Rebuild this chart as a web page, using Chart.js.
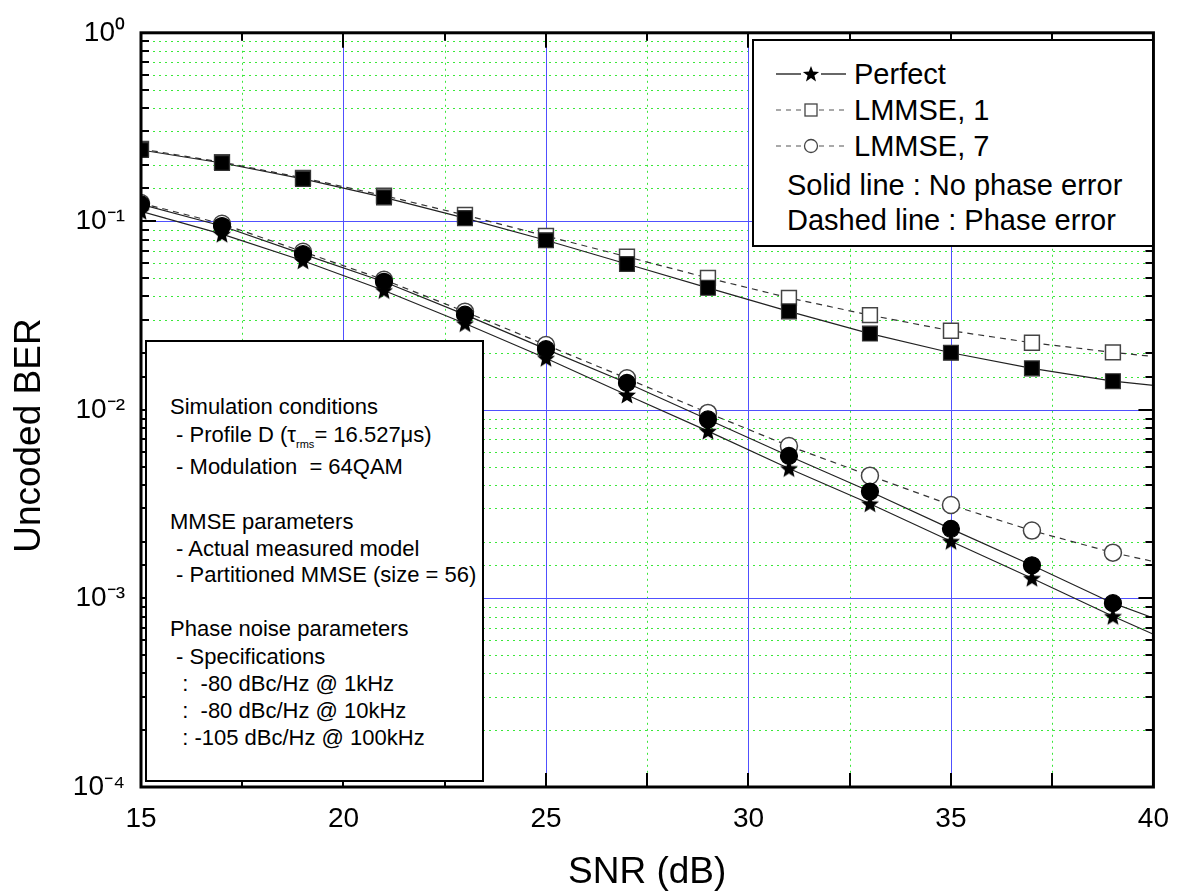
<!DOCTYPE html>
<html lang="en">
<head>
  <meta charset="UTF-8" />
  <title>Uncoded BER vs SNR</title>
  <script src="https://cdn.jsdelivr.net/npm/chart.js"></script>
  <style>
    html, body {
      margin: 0;
      padding: 0;
      background: #fff;
      font-family: 'Liberation Sans', Arial, sans-serif;
      color: #000;
    }

    #wrap {
      position: relative;
      width: 1184px;
      height: 895px;
    }

    .legend-box, .cond-box {
      position: absolute;
      background: #fff;
      border: 2px solid #000;
      box-sizing: border-box;
    }

    .legend-box {
      left: 752px;
      top: 39px;
      width: 402px;
      height: 208px;
      font-size: 29px;
    }

    .cond-box {
      left: 145px;
      top: 340px;
      width: 339px;
      height: 442px;
      font-size: 22px;
    }

    .row {
      position: absolute;
      white-space: nowrap;
      line-height: 30px;
    }

    .legend-box svg {
      position: absolute;
      left: 22px;
    }

    sub.rms {
      font-size: 11px;
      vertical-align: -6px;
    }
  </style>
</head>
<body>
  <div id="wrap">
    <canvas id="berChart" width="1184" height="895"></canvas>

    <div class="legend-box">
      <svg width="70" height="20" style="top:23px">
        <line x1="0" y1="10" x2="25" y2="10" stroke="#000" stroke-width="1.2" />
        <line x1="45" y1="10" x2="70" y2="10" stroke="#000" stroke-width="1.2" />
        <polygon points="35,2 37.1,7.6 43.1,7.9 38.4,11.6 40,17.4 35,14.1 30,17.4 31.6,11.6 26.9,7.9 32.9,7.6" fill="#000" />
      </svg>
      <div class="row" style="left:100px;top:18px">Perfect</div>

      <svg width="70" height="20" style="top:59px">
        <line x1="0" y1="10" x2="27" y2="10" stroke="#555" stroke-width="1.2" stroke-dasharray="5 5" />
        <line x1="43" y1="10" x2="70" y2="10" stroke="#555" stroke-width="1.2" stroke-dasharray="5 5" />
        <rect x="29" y="4" width="12" height="12" fill="#fff" stroke="#444" stroke-width="1.3" />
      </svg>
      <div class="row" style="left:100px;top:54px">LMMSE, 1</div>

      <svg width="70" height="20" style="top:95px">
        <line x1="0" y1="10" x2="27" y2="10" stroke="#555" stroke-width="1.2" stroke-dasharray="5 5" />
        <line x1="43" y1="10" x2="70" y2="10" stroke="#555" stroke-width="1.2" stroke-dasharray="5 5" />
        <circle cx="35" cy="10" r="6.5" fill="#fff" stroke="#444" stroke-width="1.3" />
      </svg>
      <div class="row" style="left:100px;top:90px">LMMSE, 7</div>

      <div class="row" style="left:33px;top:129px">Solid line : No phase error</div>
      <div class="row" style="left:33px;top:164px">Dashed line : Phase error</div>
    </div>

    <div class="cond-box">
      <div class="row" style="left:23px;top:50px">Simulation conditions</div>
      <div class="row" style="left:23px;top:78px">&nbsp;- Profile D (τ<sub class="rms">rms</sub>= 16.527μs)</div>
      <div class="row" style="left:23px;top:110px">&nbsp;- Modulation &nbsp;= 64QAM</div>
      <div class="row" style="left:23px;top:165px">MMSE parameters</div>
      <div class="row" style="left:23px;top:192px">&nbsp;- Actual measured model</div>
      <div class="row" style="left:23px;top:218px">&nbsp;- Partitioned MMSE (size = 56)</div>
      <div class="row" style="left:23px;top:272px">Phase noise parameters</div>
      <div class="row" style="left:23px;top:300px">&nbsp;- Specifications</div>
      <div class="row" style="left:23px;top:327px">&nbsp; : &nbsp;-80 dBc/Hz @ 1kHz</div>
      <div class="row" style="left:23px;top:354px">&nbsp; : &nbsp;-80 dBc/Hz @ 10kHz</div>
      <div class="row" style="left:23px;top:381px">&nbsp; : -105 dBc/Hz @ 100kHz</div>
    </div>
  </div>

  <script>
    // SNR points (last one is only where the curves run into the right frame)
    const snr = [15, 17, 19, 21, 23, 25, 27, 29, 31, 33, 35, 37, 39, 40];

    const perfect   = [0.113, 0.0855, 0.0618, 0.043, 0.0287, 0.0188, 0.0120, 0.00772, 0.00489, 0.00318, 0.00201, 0.00128, 0.000804, 0.000646];
    const lmmse7    = [0.123, 0.0945, 0.067, 0.0478, 0.0320, 0.0210, 0.0139, 0.0089, 0.0057, 0.00369, 0.00234, 0.0015, 0.000944, 0.000788];
    const lmmse7Pe  = [0.125, 0.097, 0.069, 0.049, 0.0332, 0.0221, 0.0147, 0.00964, 0.00644, 0.00448, 0.00313, 0.00229, 0.00175, 0.00157];
    const lmmse1    = [0.239, 0.204, 0.168, 0.134, 0.104, 0.0794, 0.0594, 0.0444, 0.0333, 0.0254, 0.0201, 0.0166, 0.0142, 0.0135];
    const lmmse1Pe  = [0.242, 0.206, 0.170, 0.137, 0.108, 0.0837, 0.0649, 0.0501, 0.0393, 0.0318, 0.0263, 0.0227, 0.0202, 0.0192];

    const yTickValues = [1e-4, 1e-3, 1e-2, 1e-1, 1];
    const yTickLabels = ['10⁻⁴', '10⁻³', '10⁻²', '10⁻¹', '10⁰'];
    const xTickValues = [15, 20, 25, 30, 35, 40];
    const xTickLabels = ['15', '20', '25', '30', '35', '40'];

    const isDecade = v => Math.abs(Math.log10(v) - Math.round(Math.log10(v))) < 1e-6;
    const lastIdx = snr.length - 1;

    // filled star marker
    const starImg = document.createElement('canvas');
    starImg.width = 20;
    starImg.height = 20;
    (function () {
      const c = starImg.getContext('2d');
      c.beginPath();
      for (let i = 0; i < 10; i++) {
        const r = i % 2 === 0 ? 9.5 : 4.2;
        const a = -Math.PI / 2 + i * Math.PI / 5;
        const px = 10 + r * Math.cos(a), py = 10.8 + r * Math.sin(a);
        if (i === 0) c.moveTo(px, py); else c.lineTo(px, py);
      }
      c.closePath();
      c.fillStyle = '#000';
      c.fill();
    })();

    const pts = arr => snr.map((x, i) => ({ x: x, y: arr[i] }));
    const radius = r => ctx => ctx.dataIndex === lastIdx ? 0 : r;

    // grid: blue solid at major values, green dotted at minor ones
    const gridLines = {
      id: 'gridLines',
      beforeDatasetsDraw(chart) {
        const { ctx, chartArea: a, scales: { x, y } } = chart;
        const px = v => Math.round(v) + 0.5;
        ctx.save();
        ctx.lineWidth = 1;

        ctx.strokeStyle = '#3ae83a';
        ctx.setLineDash([2, 4]);
        y.ticks.forEach(t => {
          if (isDecade(t.value)) return;
          const yy = px(y.getPixelForValue(t.value));
          ctx.beginPath(); ctx.moveTo(a.left, yy); ctx.lineTo(a.right, yy); ctx.stroke();
        });
        x.ticks.forEach(t => {
          if (t.value % 5 === 0) return;
          const xx = px(x.getPixelForValue(t.value));
          ctx.beginPath(); ctx.moveTo(xx, a.top); ctx.lineTo(xx, a.bottom); ctx.stroke();
        });

        ctx.setLineDash([]);
        ctx.strokeStyle = '#5050ff';
        y.ticks.forEach(t => {
          if (!isDecade(t.value) || t.value === y.min || t.value === y.max) return;
          const yy = px(y.getPixelForValue(t.value));
          ctx.beginPath(); ctx.moveTo(a.left, yy); ctx.lineTo(a.right, yy); ctx.stroke();
        });
        x.ticks.forEach(t => {
          if (t.value % 5 !== 0 || t.value === x.min || t.value === x.max) return;
          const xx = px(x.getPixelForValue(t.value));
          ctx.beginPath(); ctx.moveTo(xx, a.top); ctx.lineTo(xx, a.bottom); ctx.stroke();
        });
        ctx.restore();
      }
    };

    // frame with inward tick marks on all four sides
    const frameTicks = {
      id: 'frameTicks',
      afterDatasetsDraw(chart) {
        const { ctx, chartArea: a, scales: { x, y } } = chart;
        ctx.save();
        ctx.strokeStyle = '#000';
        ctx.lineWidth = 2;
        const seg = (x1, y1, x2, y2) => {
          ctx.beginPath();
          ctx.moveTo(x1, y1);
          ctx.lineTo(x2, y2);
          ctx.stroke();
        };
        y.ticks.forEach(t => {
          const yy = Math.round(y.getPixelForValue(t.value));
          const len = isDecade(t.value) ? 15 : 8;
          seg(a.left, yy, a.left + len, yy);
          seg(a.right, yy, a.right - len, yy);
        });
        x.ticks.forEach(t => {
          const xx = Math.round(x.getPixelForValue(t.value));
          const len = t.value % 5 === 0 ? 15 : 8;
          seg(xx, a.bottom, xx, a.bottom - 14);
          seg(xx, a.top, xx, a.top + len);
        });
        ctx.lineWidth = 3;
        ctx.strokeRect(a.left, a.top, a.right - a.left, a.bottom - a.top);
        ctx.restore();
      }
    };

    Chart.defaults.font.family = "'Liberation Sans', Arial, sans-serif";
    Chart.defaults.color = '#000';

    new Chart(document.getElementById('berChart'), {
      type: 'line',
      data: {
        datasets: [
          {
            label: 'Perfect',
            data: pts(perfect),
            borderColor: '#222',
            borderWidth: 1.2,
            pointStyle: starImg,
            pointRadius: radius(10)
          },
          {
            label: 'LMMSE, 7',
            data: pts(lmmse7),
            borderColor: '#222',
            borderWidth: 1.2,
            pointStyle: 'circle',
            pointRadius: radius(8.5),
            pointBackgroundColor: '#000',
            pointBorderColor: '#000'
          },
          {
            label: 'LMMSE, 1',
            data: pts(lmmse1),
            borderColor: '#222',
            borderWidth: 1.2,
            pointStyle: 'rect',
            pointRadius: radius(10.5),
            pointBackgroundColor: '#000',
            pointBorderColor: '#333'
          },
          {
            label: 'LMMSE, 7 (phase error)',
            data: pts(lmmse7Pe),
            borderColor: '#333',
            borderWidth: 1.2,
            borderDash: [6, 5],
            pointStyle: 'circle',
            pointRadius: radius(8.5),
            pointBackgroundColor: '#fff',
            pointBorderColor: '#444',
            pointBorderWidth: 1.5
          },
          {
            label: 'LMMSE, 1 (phase error)',
            data: pts(lmmse1Pe),
            borderColor: '#333',
            borderWidth: 1.2,
            borderDash: [6, 5],
            pointStyle: 'rect',
            pointRadius: radius(10.5),
            pointBackgroundColor: '#fff',
            pointBorderColor: '#444',
            pointBorderWidth: 1.5
          }
        ]
      },
      options: {
        responsive: false,
        animation: false,
        events: [],
        layout: { padding: { left: 0, right: 16, top: 27, bottom: 0 } },
        plugins: {
          legend: { display: false },
          tooltip: { enabled: false }
        },
        scales: {
          x: {
            type: 'linear',
            min: 15,
            max: 40,
            afterFit: s => { s.height = 108; },
            ticks: {
              stepSize: 2.5,
              autoSkip: false,
              maxRotation: 0,
              padding: 15,
              font: { size: 28 },
              callback: v => {
                const i = xTickValues.indexOf(v);
                return i >= 0 ? xTickLabels[i] : '';
              }
            },
            grid: { display: false, drawTicks: false },
            border: { display: false },
            title: {
              display: true,
              text: 'SNR (dB)',
              font: { size: 37 },
              padding: { top: 0, bottom: 0 }
            }
          },
          y: {
            type: 'logarithmic',
            min: 1e-4,
            max: 1,
            afterFit: s => { s.width = 141; },
            ticks: {
              autoSkip: false,
              padding: 16,
              font: { size: 28 },
              callback: v => {
                const i = yTickValues.findIndex(t => Math.abs(Math.log10(t) - Math.log10(v)) < 1e-6);
                return i >= 0 ? yTickLabels[i] : '';
              }
            },
            grid: { display: false, drawTicks: false },
            border: { display: false },
            title: {
              display: true,
              // trailing spaces push the visible words a little below centre, as in the original
              text: 'Uncoded BER\u00a0\u00a0\u00a0\u00a0\u00a0',
              font: { size: 37 },
              padding: { top: 8, bottom: 0 }
            }
          }
        }
      },
      plugins: [gridLines, frameTicks]
    });
  </script>
</body>
</html>
